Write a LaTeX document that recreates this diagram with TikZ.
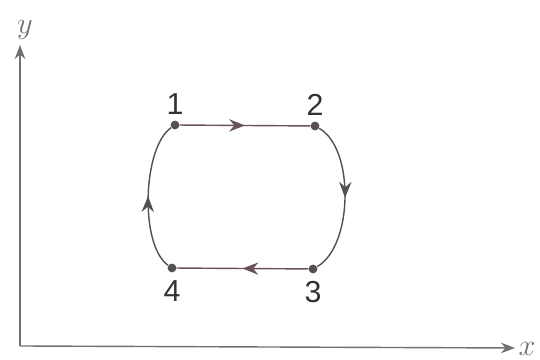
\documentclass[tikz,border=0pt]{standalone}
\usepackage{fontspec}
\usetikzlibrary{arrows.meta, positioning, decorations.markings}
\newfontfamily\numfont{Liberation Sans}
\definecolor{cycgray}{HTML}{555050}
\definecolor{cycred}{HTML}{6A5256}
\definecolor{axisgray}{HTML}{707070}

\begin{document}
\begin{tikzpicture}[
    >=Stealth,
    state/.style={circle, fill=cycgray, inner sep=0pt, minimum size=5pt},
    num/.style={font=\numfont\LARGE, color=black!80},
    axis/.style={->, thick, color=axisgray, >={Stealth[length=8pt, width=6pt]}},
    path/.style={thick, color=cycgray, postaction={decorate},
      decoration={markings, mark=at position 0.5 with {\arrow{Stealth[length=9pt, width=7pt]}}}},
]
\useasboundingbox (0,0) rectangle (10.8,7.2);

% Axes
\coordinate (o) at (0.4,0.28);
\coordinate (ytop) at (0.4,6.3);
\coordinate (xend) at (10.3,0.24);
\draw[axis] (o) -- (ytop);
\draw[axis] (o) -- (xend);
\node[font=\LARGE, color=axisgray] (ylab) at (0.5,6.6) {$y$};
\node[font=\LARGE, color=axisgray, anchor=west] (xlab) at (10.25,0.22) {$x$};

% States
\node[state] (s1) at (3.5,4.7) {};
\node[state] (s2) at (6.3,4.68) {};
\node[state] (s3) at (6.26,1.82) {};
\node[state] (s4) at (3.44,1.84) {};
\node[num, above=0pt of s1] (l1) {1};
\node[num, above=0pt of s2] (l2) {2};
\node[num, below=1pt of s3] (l3) {3};
\node[num, below=1pt of s4] (l4) {4};

% Cycle
\draw[path, color=cycred] (s1) -- (s2);
\draw[path] (s2) .. controls +(0.8,-0.45) and +(0.8,0.45) .. (s3);
\draw[path, color=cycred] (s3) -- (s4);
\draw[path] (s4) .. controls +(-0.65,0.45) and +(-0.65,-0.45) .. (s1);

\end{tikzpicture}
\end{document}
